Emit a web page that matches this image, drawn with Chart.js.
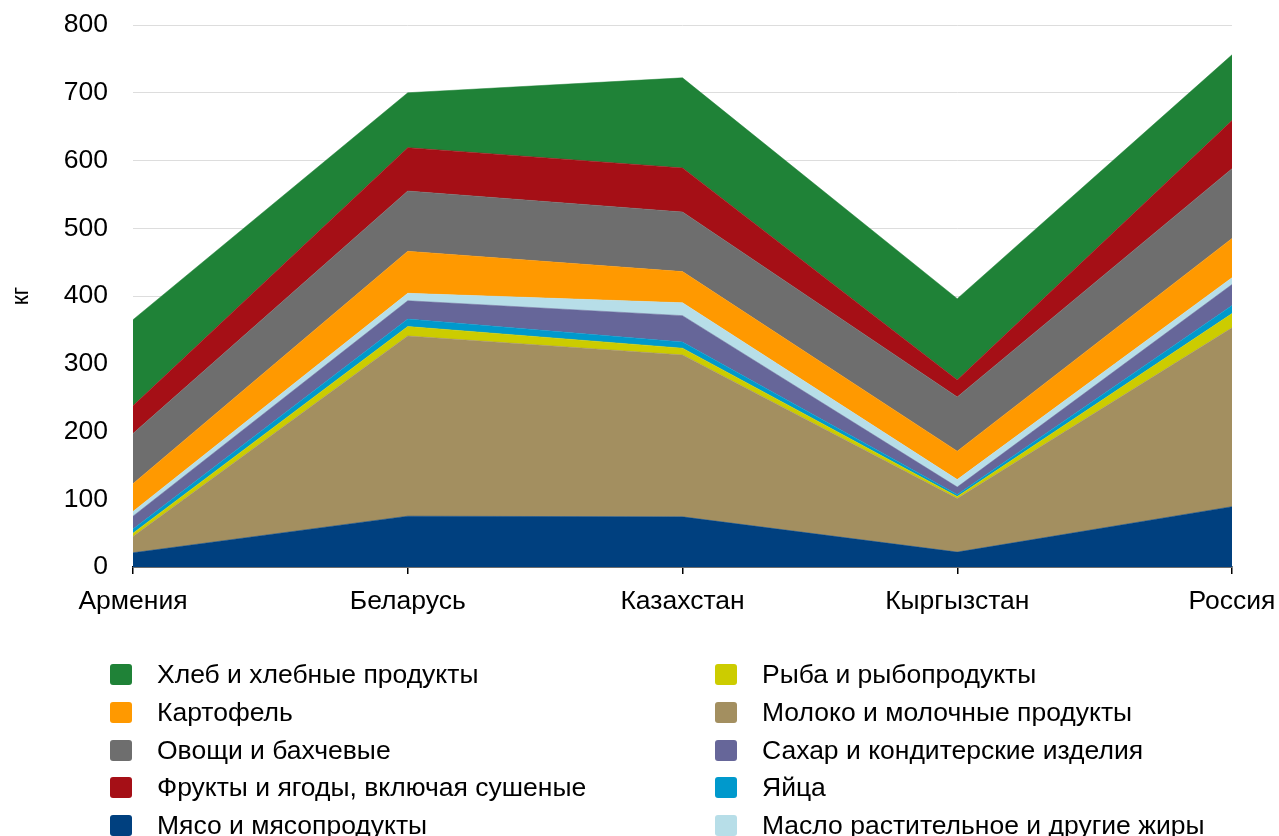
<!DOCTYPE html>
<html lang="ru">
<head>
  <meta charset="UTF-8" />
  <title>Потребление продуктов питания</title>
  <script src="https://cdn.jsdelivr.net/npm/chart.js"></script>
  <style>
    * { box-sizing: border-box; }
    body {
      margin: 0;
      background: #ffffff;
      font-family: 'Liberation Sans', Arial, sans-serif;
    }
    .wrap {
      position: relative;
      width: 1279px;
      height: 836px;
    }
    canvas { position: absolute; left: 0; top: 0; }
    .legend-item {
      position: absolute;
      height: 24px;
      display: flex;
      align-items: center;
      font-size: 26.5px;
      color: #000;
      white-space: nowrap;
    }
    .legend-item .box {
      width: 22px;
      height: 21px;
      border-radius: 3px;
      margin-right: 25px;
      flex: none;
    }
  </style>
</head>
<body>
  <div class="wrap" id="wrap">
    <canvas id="chart" width="1279" height="836"></canvas>
  </div>

  <script>
    const countries = ['Армения', 'Беларусь', 'Казахстан', 'Кыргызстан', 'Россия'];

    // слои снизу вверх, кг на человека в год
    const meat       = [21, 75, 74, 22, 89];
    const milk       = [24, 266, 239, 79, 264];
    const fish       = [5, 14, 10, 3, 21];
    const eggs       = [6, 11, 9, 3, 12];
    const sugar      = [19, 27, 39, 11, 31];
    const oil        = [7, 11, 19, 11, 10];
    const potatoes   = [41, 62, 46, 42, 58];
    const vegetables = [74, 89, 88, 80, 103];
    const fruits     = [41, 64, 65, 25, 71];
    const bread      = [127, 81, 133, 120, 97];

    const yTicks = [0, 100, 200, 300, 400, 500, 600, 700, 800];

    const series = [
      { label: 'Мясо и мясопродукты', data: meat, color: '#00407F' },
      { label: 'Молоко и молочные продукты', data: milk, color: '#A38F60' },
      { label: 'Рыба и рыбопродукты', data: fish, color: '#CCCC00' },
      { label: 'Яйца', data: eggs, color: '#0099CC' },
      { label: 'Сахар и кондитерские изделия', data: sugar, color: '#666699' },
      { label: 'Масло растительное и другие жиры', data: oil, color: '#B7DEE8' },
      { label: 'Картофель', data: potatoes, color: '#FF9900' },
      { label: 'Овощи и бахчевые', data: vegetables, color: '#6E6E6E' },
      { label: 'Фрукты и ягоды, включая сушеные', data: fruits, color: '#A50F16' },
      { label: 'Хлеб и хлебные продукты', data: bread, color: '#1F8237' }
    ];

    // порядок подписей в легенде: левый столбец, затем правый
    const legendLeft = ['Хлеб и хлебные продукты', 'Картофель', 'Овощи и бахчевые',
      'Фрукты и ягоды, включая сушеные', 'Мясо и мясопродукты'];
    const legendRight = ['Рыба и рыбопродукты', 'Молоко и молочные продукты',
      'Сахар и кондитерские изделия', 'Яйца', 'Масло растительное и другие жиры'];

    const FONT = "'Liberation Sans', Arial, sans-serif";

    const datasets = series.map((s, i) => ({
      label: s.label,
      data: s.data,
      backgroundColor: s.color,
      borderColor: s.color,
      borderWidth: 0.5,
      pointRadius: 0,
      pointHoverRadius: 0,
      tension: 0,
      fill: i === 0 ? 'origin' : '-1'
    }));

    new Chart(document.getElementById('chart').getContext('2d'), {
      type: 'line',
      data: { labels: countries, datasets: datasets },
      options: {
        responsive: false,
        animation: false,
        layout: { padding: { top: 25, right: 47, bottom: 209, left: 0 } },
        plugins: {
          legend: { display: false },
          tooltip: { enabled: false }
        },
        scales: {
          x: {
            offset: false,
            grid: {
              drawOnChartArea: false,
              drawTicks: true,
              tickLength: 7,
              color: '#000',
              lineWidth: 1.5
            },
            border: { display: true, color: '#000', width: 1.5 },
            ticks: {
              color: '#000',
              font: { family: FONT, size: 26.5 },
              padding: 12,
              maxRotation: 0,
              autoSkip: false
            },
            afterFit: (scale) => {
              scale.height = 60;
              scale.paddingLeft = 0;
              scale.paddingRight = 0;
            }
          },
          y: {
            stacked: true,
            min: 0,
            max: 800,
            afterBuildTicks: (scale) => { scale.ticks = yTicks.map(v => ({ value: v })); },
            grid: { color: '#DDDDDD', lineWidth: 1, drawTicks: false },
            border: { display: false },
            ticks: {
              color: '#000',
              font: { family: FONT, size: 26.5 },
              padding: 25
            },
            title: {
              display: true,
              text: 'кг',
              color: '#000',
              font: { family: FONT, size: 23 },
              padding: { top: 8, bottom: 0 }
            },
            afterFit: (scale) => {
              scale.width = 133;
              scale.paddingTop = 0;
              scale.paddingBottom = 0;
            }
          }
        }
      }
    });

    // легенда в два столбца
    const wrap = document.getElementById('wrap');
    const rowY = [674, 712, 750, 787, 825];
    function addColumn(names, boxX) {
      names.forEach((name, r) => {
        const s = series.find(d => d.label === name);
        const item = document.createElement('div');
        item.className = 'legend-item';
        item.style.left = boxX + 'px';
        item.style.top = (rowY[r] - 12) + 'px';
        const box = document.createElement('span');
        box.className = 'box';
        box.style.background = s.color;
        const txt = document.createElement('span');
        txt.textContent = name;
        item.appendChild(box);
        item.appendChild(txt);
        wrap.appendChild(item);
      });
    }
    addColumn(legendLeft, 110);
    addColumn(legendRight, 715);
  </script>
</body>
</html>
